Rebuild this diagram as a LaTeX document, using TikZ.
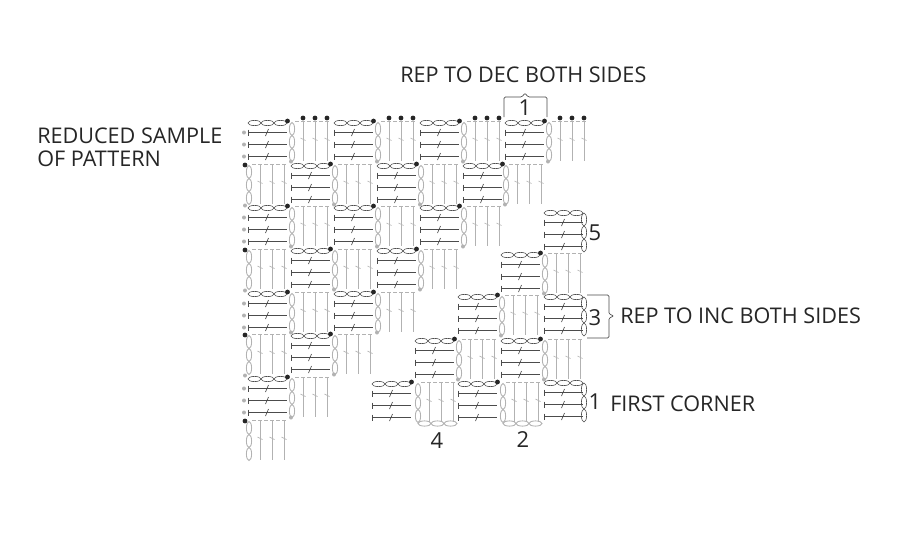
\documentclass[tikz,border=0pt]{standalone}
\usepackage{fontspec}
\setmainfont{Open Sans}
\usetikzlibrary{positioning}
\definecolor{inkdark}{gray}{0.3}
\definecolor{inklight}{gray}{0.7}
\tikzset{
  lbl/.style={font=\fontsize{16.2}{18}\selectfont, inner sep=0pt, anchor=west, text=black!85},
  num/.style={font=\fontsize{16.5}{18}\selectfont, inner sep=0pt, text=black!85},
  oval/.style={draw=inkdark, line width=.45pt},
  ovallight/.style={draw=inklight, line width=.65pt},
  bar/.style={draw=inkdark, line width=.7pt},
  post/.style={draw=inklight, line width=.7pt},
  tick/.style={draw=inkdark, line width=.5pt},
  brace/.style={draw=inkdark, line width=.5pt, rounded corners=1pt},
  blackdot/.style={fill=black!85},
  graydot/.style={fill=inklight},
  hchain/.pic={
    \draw[oval] (6.5,0) ellipse [x radius=6.5, y radius=2.6];
    \draw[oval] (19.5,0) ellipse [x radius=6.5, y radius=2.6];
    \draw[oval] (32.5,0) ellipse [x radius=6.5, y radius=2.6];
  },
  hbars/.pic={
    \draw[bar] (0,6.5) -- (0,12.5) (0,9.5) -- (39,9.5);
    \draw[bar] (0,18.5) -- (0,24.5) (0,21.5) -- (39,21.5);
    \draw[bar] (0,30.5) -- (0,36.5) (0,33.5) -- (39,33.5);
    \draw[tick] (17.5,13) -- (20.5,6) (17.5,25) -- (20.5,18) (17.5,37) -- (20.5,30);
    \pic at (0,0) {hchain};
  },
  hblock/.pic={
    \pic at (0,0) {hbars};
    \fill[blackdot] (39.5,-2) circle [radius=2.4];
  },
  hside/.pic={
    \pic at (0,0) {hblock};
    \fill[graydot] (-4,9.5) circle [radius=2];
    \fill[graydot] (-4,21.5) circle [radius=2];
    \fill[graydot] (-4,33.5) circle [radius=2];
  },
  hright/.pic={
    \pic at (0,0) {hbars};
    \draw[oval] (40,6.5) ellipse [x radius=2.6, y radius=6.5];
    \draw[oval] (40,19.5) ellipse [x radius=2.6, y radius=6.5];
    \draw[oval] (40,32.5) ellipse [x radius=2.6, y radius=6.5];
  },
  vposts/.pic={
    \draw[post, dashed, dash pattern=on 3pt off 1.5pt, line width=.4pt] (4,-2) -- (40,-2);
    \draw[post] (12,-2) -- (12,38) (24,-2) -- (24,38) (36,-2) -- (36,38);
    \draw[post, line width=.5pt] (9.5,15) -- (14.5,17.5) (21.5,15) -- (26.5,17.5) (33.5,15) -- (38.5,17.5);
  },
  vchain/.pic={
    \draw[ovallight] (1,6) ellipse [x radius=2.6, y radius=6.5];
    \draw[ovallight] (1,19) ellipse [x radius=2.6, y radius=6.5];
    \draw[ovallight] (1,32) ellipse [x radius=2.6, y radius=6.5];
  },
  vplain/.pic={
    \pic at (0,0) {vposts};
    \pic at (0,0) {vchain};
  },
  vblock/.pic={
    \pic at (0,0) {vplain};
    \fill[graydot] (0,38.5) circle [radius=2];
  },
  vtop/.pic={
    \pic at (0,0) {vblock};
    \fill[blackdot] (12,-5) circle [radius=2.4];
    \fill[blackdot] (24,-5) circle [radius=2.4];
    \fill[blackdot] (36,-5) circle [radius=2.4];
  },
  vfirst/.pic={
    \pic at (0,0) {vplain};
    \fill[blackdot] (-3,-1) circle [radius=2.4];
    \fill[graydot] (-3,39.5) circle [radius=2];
  },
  vcorner/.pic={
    \pic at (1,0) {vplain};
    \draw[ovallight] (8.5,39.5) ellipse [x radius=6.5, y radius=2.6];
    \draw[ovallight] (21.5,39.5) ellipse [x radius=6.5, y radius=2.6];
    \draw[ovallight] (34.5,39.5) ellipse [x radius=6.5, y radius=2.6];
  }
}
\begin{document}
\begin{tikzpicture}[x=0.75pt, y=-0.75pt]
\useasboundingbox[fill=white] (0,0) rectangle (914,532);
% descending rows
\pic at (248,123) {hside};
\pic at (291,123) {vtop};
\pic at (334,123) {hblock};
\pic at (377,123) {vtop};
\pic at (420,123) {hblock};
\pic at (463,123) {vtop};
\pic at (505,123) {hblock};
\pic at (548,123) {vtop};
\pic at (248,166) {vfirst};
\pic at (291,166) {hblock};
\pic at (334,166) {vblock};
\pic at (377,166) {hblock};
\pic at (420,166) {vblock};
\pic at (463,166) {hblock};
\pic at (505,166) {vblock};
\pic at (248,208) {hside};
\pic at (291,208) {vblock};
\pic at (334,208) {hblock};
\pic at (377,208) {vblock};
\pic at (420,208) {hblock};
\pic at (463,208) {vblock};
\pic at (248,251) {vfirst};
\pic at (291,251) {hblock};
\pic at (334,251) {vblock};
\pic at (377,251) {hblock};
\pic at (420,251) {vblock};
\pic at (248,294) {hside};
\pic at (291,294) {vblock};
\pic at (334,294) {hblock};
\pic at (377,294) {vblock};
\pic at (248,336) {vfirst};
\pic at (291,336) {hblock};
\pic at (334,336) {vblock};
\pic at (248,379) {hside};
\pic at (291,379) {vblock};
\pic at (248,422) {vplain};
\fill[blackdot] (245,421) circle [radius=2.4];
% rising rows
\pic at (372,384) {hblock};
\pic at (416,384) {vcorner};
\pic at (458,384) {hblock};
\pic at (501,384) {vcorner};
\pic at (544,383) {hright};
\pic at (415,341) {hblock};
\pic at (458,341) {vblock};
\pic at (501,341) {hblock};
\pic at (544,341) {vblock};
\pic at (458,297) {hblock};
\pic at (501,297) {vblock};
\pic at (544,297) {hright};
\pic at (501,255) {hblock};
\pic at (544,255) {vblock};
\pic at (544,213) {hright};
% labels
\node[lbl] (decnote) at (400,75) {REP TO DEC BOTH SIDES};
\node[lbl, align=left, font=\fontsize{16.2}{17.2}\selectfont] (samplenote) at (37,147) {REDUCED SAMPLE\\OF PATTERN};
\node[lbl] (incnote) at (620,316) {REP TO INC BOTH SIDES};
\node[lbl] (cornernote) at (610,404) {FIRST CORNER};
\node[num] (topone) at (525,108) {1};
\node[num] (rowfive) at (595,233) {5};
\node[num] (rowthree) at (595,318) {3};
\node[num] (rowone) at (595,402) {1};
\node[num] (rowfour) at (437,441) {4};
\node[num] (rowtwo) at (523,440) {2};
\coordinate (dectip) at (525,93);
\coordinate (inctip) at (614,316);
\draw[brace] (504,117) -- (504,97) -- (522,97) -- (dectip) -- (528,97) -- (547,97) -- (547,117);
\draw[brace] (587,295) -- (609,295) -- (609,314) -- (inctip) -- (609,318) -- (609,338) -- (587,338);
\end{tikzpicture}
\end{document}
